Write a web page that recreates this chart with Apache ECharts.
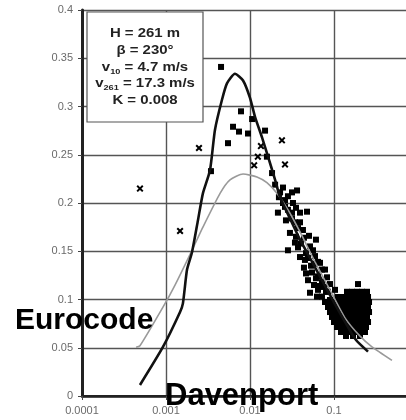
<!DOCTYPE html>
<html>
<head>
<meta charset="utf-8">
<script src="https://cdn.jsdelivr.net/npm/echarts@6/dist/echarts.min.js"></script>
<style>
  html, body { margin: 0; padding: 0; background: #fff; }
  #chart { width: 406px; height: 420px; }
</style>
</head>
<body>
<div id="chart"></div>
<script>
// Axis ticks
const xTickLabels = ['0.0001', '0.001', '0.01', '0.1', '1'];
const yTickLabels = ['0', '0.05', '0.1', '0.15', '0.2', '0.25', '0.3', '0.35', '0.4'];

// Davenport spectrum (frequency, normalised spectral density)
const davenportFreq = [0.00049, 0.00092, 0.00147, 0.00159, 0.00178, 0.00204, 0.0024, 0.00275, 0.00334, 0.00383,
  0.00464, 0.00532, 0.00662, 0.00826, 0.01, 0.0115, 0.0139, 0.0164, 0.0199, 0.0228,
  0.0299, 0.0394, 0.0518, 0.074, 0.1, 0.135, 0.183, 0.254];
const davenportSpec = [0.0114, 0.0508, 0.087, 0.096, 0.131, 0.149, 0.182, 0.21, 0.234, 0.276,
  0.307, 0.324, 0.334, 0.327, 0.309, 0.289, 0.268, 0.248, 0.224, 0.206,
  0.184, 0.162, 0.143, 0.118, 0.097, 0.077, 0.058, 0.046];

// Eurocode spectrum
const eurocodeFreq = [0.00044, 0.00049, 0.00092, 0.00128, 0.00204, 0.00275, 0.0044, 0.00578, 0.00826, 0.0121,
  0.0159, 0.0209, 0.0283, 0.0394, 0.0594, 0.0895, 0.135, 0.204, 0.283, 0.49];
const eurocodeSpec = [0.0505, 0.052, 0.092, 0.115, 0.151, 0.175, 0.21, 0.224, 0.23, 0.227,
  0.221, 0.21, 0.193, 0.17, 0.139, 0.11, 0.081, 0.062, 0.051, 0.037];

// Measured values, cross markers
const crossPoints = [[0.00247, 0.257], [0.024, 0.265], [0.0261, 0.24], [0.0112, 0.239], [0.00049, 0.215],
  [0.00147, 0.171], [0.0135, 0.259], [0.0124, 0.248]];

// Measured values, square markers
const squarePoints = [
  [0.00452, 0.341], [0.00781, 0.295], [0.0106, 0.287], [0.00628, 0.279], [0.0074, 0.274], [0.00947, 0.272],
  [0.0151, 0.275], [0.00547, 0.262], [0.0159, 0.248], [0.00343, 0.233], [0.0183, 0.231],
  [0.0199, 0.219], [0.0247, 0.216], [0.0316, 0.211], [0.0363, 0.213], [0.0283, 0.207], [0.0221, 0.206],
  [0.0247, 0.2], [0.0325, 0.2], [0.0394, 0.19], [0.0477, 0.191], [0.0215, 0.19], [0.0283, 0.193],
  [0.0343, 0.18], [0.0268, 0.182], [0.0427, 0.172], [0.0299, 0.169], [0.0353, 0.165], [0.0404, 0.158],
  [0.0518, 0.155], [0.0283, 0.151], [0.061, 0.162], [0.0464, 0.148], [0.0594, 0.145], [0.0373, 0.154],
  [0.0451, 0.141], [0.0681, 0.138], [0.0532, 0.135], [0.0781, 0.131], [0.0439, 0.133], [0.0547, 0.128],
  [0.0645, 0.124], [0.0825, 0.123], [0.049, 0.12], [0.0719, 0.118], [0.0578, 0.115], [0.0896, 0.116],
  [0.0645, 0.11], [0.0803, 0.108], [0.1028, 0.11], [0.0719, 0.103], [0.0896, 0.0995], [0.0518, 0.107],
  [0.0394, 0.144], [0.0343, 0.159], [0.0504, 0.166], [0.0562, 0.151], [0.0394, 0.18], [0.0316, 0.19],
  [0.0719, 0.131], [0.0645, 0.139], [0.076, 0.113],
  [0.0228, 0.211], [0.0261, 0.203], [0.0316, 0.184], [0.0373, 0.174], [0.0439, 0.164], [0.049, 0.143],
  [0.0578, 0.137], [0.061, 0.122], [0.0681, 0.114], [0.0848, 0.108], [0.0627, 0.103], [0.0464, 0.127],
  [0.0353, 0.195], [0.0261, 0.196],
  [0.1429, 0.108], [0.1639, 0.108], [0.188, 0.108], [0.2156, 0.108], [0.2473, 0.108],
  [0.1116, 0.1026], [0.128, 0.1026], [0.1468, 0.1026], [0.1684, 0.1026], [0.1932, 0.1026], [0.2216, 0.1026], [0.2542, 0.1026],
  [0.0781, 0.0974], [0.0896, 0.0974], [0.1028, 0.0974], [0.1179, 0.0974], [0.1352, 0.0974], [0.1551, 0.0974],
  [0.1779, 0.0974], [0.2041, 0.0974], [0.2341, 0.0974], [0.2613, 0.0974],
  [0.0848, 0.0922], [0.0973, 0.0922], [0.1116, 0.0922], [0.128, 0.0922], [0.1468, 0.0922], [0.1684, 0.0922],
  [0.1932, 0.0922], [0.2216, 0.0922], [0.2542, 0.0922],
  [0.0896, 0.087], [0.1028, 0.087], [0.1179, 0.087], [0.1352, 0.087], [0.1551, 0.087], [0.1779, 0.087],
  [0.2041, 0.087], [0.2341, 0.087], [0.2613, 0.087],
  [0.0946, 0.0819], [0.1086, 0.0819], [0.1245, 0.0819], [0.1429, 0.0819], [0.1639, 0.0819], [0.188, 0.0819],
  [0.2156, 0.0819], [0.2473, 0.0819],
  [0.1, 0.0767], [0.1147, 0.0767], [0.1316, 0.0767], [0.1509, 0.0767], [0.1731, 0.0767], [0.1986, 0.0767],
  [0.2278, 0.0767], [0.2542, 0.0767],
  [0.1086, 0.0715], [0.1245, 0.0715], [0.1429, 0.0715], [0.1639, 0.0715], [0.188, 0.0715], [0.2156, 0.0715], [0.2406, 0.0715],
  [0.1212, 0.0663], [0.139, 0.0663], [0.1594, 0.0663], [0.1829, 0.0663], [0.2098, 0.0663], [0.2341, 0.0663],
  [0.139, 0.0622], [0.1684, 0.0622], [0.2041, 0.0622],
  [0.1932, 0.116]
];

const FONT = '"Liberation Sans", Arial, sans-serif';
const crossPath = 'path://M0,2L2,0L5,3L8,0L10,2L7,5L10,8L8,10L5,7L2,10L0,8L3,5Z';

const zip = (xs, ys) => xs.map((x, i) => [x, ys[i]]);

const chart = echarts.init(document.getElementById('chart'), null, { renderer: 'canvas' });

chart.setOption({
  animation: false,
  backgroundColor: '#fff',
  grid: { left: 82, right: -12, top: 10, bottom: 24, containLabel: false, outerBoundsMode: 'none' },
  xAxis: [{
    type: 'log',
    logBase: 10,
    min: 0.0001,
    max: 1,
    axisLine: { show: true, onZero: false, lineStyle: { color: '#222', width: 2.5 } },
    axisTick: { show: true, length: 4, lineStyle: { color: '#444', width: 1 } },
    minorTick: { show: false },
    splitLine: { show: true, lineStyle: { color: '#555', width: 1.4 } },
    axisLabel: {
      color: '#6a6a6a', fontFamily: FONT, fontSize: 11, margin: 9,
      formatter: v => xTickLabels[Math.round(Math.log10(v)) + 4]
    }
  }, {
    type: 'log', logBase: 10, min: 0.0001, max: 1, position: 'top',
    axisLine: { show: true, lineStyle: { color: '#222', width: 2 } },
    axisTick: { show: false }, axisLabel: { show: false }, splitLine: { show: false }
  }],
  yAxis: {
    type: 'value',
    min: 0,
    max: 0.4,
    interval: 0.05,
    axisLine: { show: true, onZero: false, lineStyle: { color: '#222', width: 3 } },
    axisTick: { show: true, length: 4, lineStyle: { color: '#444', width: 1 } },
    splitLine: { show: true, lineStyle: { color: '#555', width: 1.4 } },
    axisLabel: {
      color: '#6a6a6a', fontFamily: FONT, fontSize: 11, margin: 9,
      formatter: v => yTickLabels[Math.round(v / 0.05)]
    }
  },
  series: [
    {
      type: 'scatter', name: 'measured', data: squarePoints,
      symbol: 'rect', symbolSize: 6, itemStyle: { color: '#000', opacity: 1 }, z: 3
    },
    {
      type: 'scatter', name: 'measured x', data: crossPoints,
      symbol: crossPath, symbolSize: 7, itemStyle: { color: '#000', opacity: 1 }, z: 3
    },
    {
      type: 'line', name: 'Eurocode', data: zip(eurocodeFreq, eurocodeSpec),
      symbol: 'none', smooth: 0.2, lineStyle: { color: '#9a9a9a', width: 1.6 }, z: 4
    },
    {
      type: 'line', name: 'Davenport', data: zip(davenportFreq, davenportSpec),
      symbol: 'none', smooth: 0.2, lineStyle: { color: '#111', width: 2.6 }, z: 5
    }
  ],
  graphic: [
    {
      type: 'rect', z: 100,
      shape: { x: 87, y: 12, width: 116, height: 110 },
      style: { fill: '#fff', stroke: '#555', lineWidth: 1.2 }
    },
    {
      type: 'text', z: 101, x: 145, y: 67, scaleX: 1.15,
      style: {
        text: '{m|H = 261 m}\n{m|β = 230°}\n{m|v}{s|10}{m| = 4.7 m/s}\n{m|v}{s|261}{m| = 17.3 m/s}\n{m|K = 0.008}',
        align: 'center', verticalAlign: 'middle', textAlign: 'center', textVerticalAlign: 'middle',
        fill: '#222',
        rich: {
          m: { fontFamily: FONT, fontSize: 13, fontWeight: 'bold', lineHeight: 16.7, fill: '#222', color: '#222' },
          s: { fontFamily: FONT, fontSize: 8, fontWeight: 'bold', lineHeight: 8, verticalAlign: 'bottom', fill: '#222', color: '#222' }
        }
      }
    },
    {
      type: 'text', z: 102, x: 15, y: 321,
      style: { text: 'Eurocode', fontFamily: FONT, fontSize: 30, fontWeight: 'bold', fill: '#000',
        align: 'left', verticalAlign: 'middle', textAlign: 'left', textVerticalAlign: 'middle' }
    },
    {
      type: 'text', z: 102, x: 165, y: 396,
      style: { text: 'Davenport', fontFamily: FONT, fontSize: 31, fontWeight: 'bold', fill: '#000',
        align: 'left', verticalAlign: 'middle', textAlign: 'left', textVerticalAlign: 'middle' }
    }
  ]
});
</script>
</body>
</html>
